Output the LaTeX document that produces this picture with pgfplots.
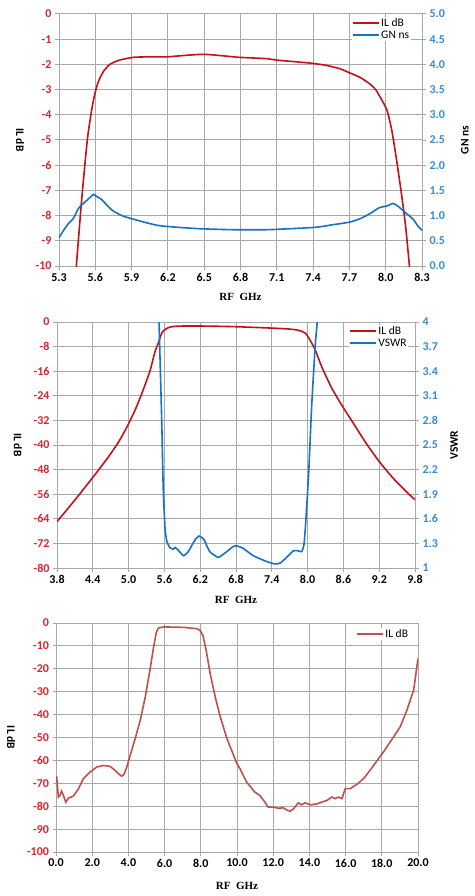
\documentclass[border=0pt]{standalone}
\usepackage{pgfplots}
\pgfplotsset{compat=1.18}
\usepackage{fontspec}
\setmainfont{Liberation Serif}
\newfontfamily\calfont{Carlito}
\definecolor{ilred}{RGB}{196,16,24}
\definecolor{gnblue}{RGB}{20,115,195}
\definecolor{tickred}{RGB}{222,34,44}
\definecolor{tickblue}{RGB}{52,140,215}
\definecolor{gridgray}{RGB}{168,168,168}
\definecolor{ilredc}{RGB}{192,80,77}
\pgfplotsset{legend image code/.code={\draw[#1] (0pt,0pt) -- (26pt,0pt);}}
\pgfplotsset{
 base/.style={scale only axis, clip=true,
   grid=major, grid style={gridgray, line width=1pt},
   axis line style={gridgray, line width=1pt},
   tick style={gridgray, line width=1pt},
   major tick length=4pt,
   tick label style={font=\calfont\bfseries\fontsize{12}{13}\selectfont},
   /pgf/number format/assume math mode=true,
   xlabel style={font=\bfseries\fontsize{11}{13}\selectfont},
   legend style={draw=none, fill=white, inner sep=0pt, nodes={inner sep=1.5pt},
     font=\calfont\fontsize{11.5}{13}\selectfont, cells={anchor=west}},
 },
 ylab/.style 2 args={every axis y label/.style={at={(axis description cs:#1,0.5)},
   rotate=#2, anchor=center, font=\calfont\bfseries\fontsize{11.5}{13}\selectfont}},
}
\begin{document}
\begin{tikzpicture}
\path[use as bounding box] (0pt,0pt) rectangle (474pt,-896pt);
% ---------- Chart 1 ----------
\begin{axis}[base, at={(59pt,-266pt)}, anchor=south west, width=363pt, height=252pt,
 xmin=5.3, xmax=8.3, ymin=-10, ymax=0, tick align=outside,
 xtick={5.3,5.6,5.9,6.2,6.5,6.8,7.1,7.4,7.7,8.0,8.3},
 xticklabels={5.3,5.6,5.9,6.2,6.5,6.8,7.1,7.4,7.7,8.0,8.3},
 ytick={-10,-9,-8,-7,-6,-5,-4,-3,-2,-1,0},
 yticklabel style={color=tickred},
 ytick pos=left, xtick pos=lower,
 xlabel={RF\ \ GHz}, xlabel style={at={(axis description cs:0.5,-0.123)}, anchor=center},
 ylabel={IL dB}, ylab={-0.107}{-90}]
\addplot[ilred, line width=1.6pt, smooth, tension=0.4] coordinates {
(5.44,-10.2)(5.487,-7.39)(5.534,-5.0)(5.57,-3.81)(5.597,-3.15)(5.625,-2.69)(5.666,-2.29)
(5.72,-2.0)(5.80,-1.83)(5.914,-1.72)(6.05,-1.70)(6.19,-1.70)(6.35,-1.64)(6.50,-1.60)
(6.68,-1.67)(6.79,-1.72)(7.01,-1.77)(7.10,-1.83)(7.29,-1.91)(7.40,-1.96)(7.51,-2.04)
(7.62,-2.17)(7.70,-2.33)(7.79,-2.52)(7.87,-2.78)(7.92,-3.02)(7.96,-3.35)(8.01,-3.81)
(8.05,-4.61)(8.09,-5.80)(8.13,-7.13)(8.165,-8.45)(8.20,-10.2)};
\end{axis}
\begin{axis}[base, at={(59pt,-266pt)}, anchor=south west, width=363pt, height=252pt,
 xmin=5.3, xmax=8.3, ymin=0, ymax=5, grid=none,
 axis y line*=right, axis x line=none, tick align=outside,
 ytick={0,0.5,1,1.5,2,2.5,3,3.5,4,4.5,5},
 yticklabels={0.0,0.5,1.0,1.5,2.0,2.5,3.0,3.5,4.0,4.5,5.0},
 yticklabel style={color=tickblue},
 ylabel={GN ns}, ylab={1.118}{90},
 legend style={at={(axis description cs:0.807,0.99)}, anchor=north west}]
\addlegendimage{ilred, line width=1.6pt}\addlegendentry{IL dB}
\addplot[gnblue, line width=1.6pt, smooth, tension=0.4] coordinates {
(5.3,0.56)(5.336,0.70)(5.377,0.84)(5.418,0.94)(5.46,1.14)(5.515,1.27)(5.556,1.36)
(5.584,1.42)(5.61,1.38)(5.652,1.32)(5.694,1.21)(5.749,1.09)(5.83,0.99)(5.914,0.93)
(6.02,0.86)(6.13,0.80)(6.27,0.77)(6.46,0.74)(6.74,0.72)(7.01,0.72)(7.21,0.74)
(7.43,0.77)(7.565,0.82)(7.70,0.87)(7.79,0.94)(7.87,1.04)(7.95,1.16)(8.01,1.19)
(8.06,1.24)(8.10,1.19)(8.157,1.07)(8.226,0.93)(8.267,0.79)(8.30,0.71)};
\addlegendentry{GN ns}
\end{axis}
% ---------- Chart 2 ----------
\begin{axis}[base, at={(57pt,-568pt)}, anchor=south west, width=358pt, height=246pt,
 xmin=3.8, xmax=9.8, ymin=-80, ymax=0, tick align=outside,
 xtick={3.8,4.4,5.0,5.6,6.2,6.8,7.4,8.0,8.6,9.2,9.8},
 xticklabels={3.8,4.4,5.0,5.6,6.2,6.8,7.4,8.0,8.6,9.2,9.8},
 ytick={-80,-72,-64,-56,-48,-40,-32,-24,-16,-8,0},
 yticklabel style={color=tickred},
 ytick pos=left, xtick pos=lower,
 xlabel={RF\ \ GHz}, xlabel style={at={(axis description cs:0.5,-0.130)}, anchor=center},
 ylabel={IL dB}, ylab={-0.109}{-90}]
\addplot[ilred, line width=1.6pt, smooth, tension=0.4] coordinates {
(3.8,-64.9)(3.985,-60.6)(4.153,-56.6)(4.32,-52.5)(4.49,-48.3)(4.66,-43.9)(4.83,-39.1)
(4.97,-34.2)(5.11,-28.6)(5.23,-22.8)(5.36,-15.8)(5.44,-9.8)(5.50,-6.8)(5.54,-4.3)
(5.58,-2.9)(5.67,-1.8)(5.78,-1.4)(5.95,-1.3)(6.19,-1.3)(6.75,-1.5)(7.42,-2.0)
(7.70,-2.3)(7.85,-2.7)(7.96,-3.6)(8.045,-6.0)(8.13,-9.2)(8.24,-14.7)(8.41,-21.7)
(8.60,-27.9)(8.75,-32.4)(8.97,-39.1)(9.19,-45.1)(9.42,-50.5)(9.64,-54.9)(9.80,-57.8)};
\end{axis}
\begin{axis}[base, at={(57pt,-568pt)}, anchor=south west, width=358pt, height=246pt,
 xmin=3.8, xmax=9.8, ymin=1, ymax=4, grid=none,
 axis y line*=right, axis x line=none, tick align=outside,
 ytick={1,1.3,1.6,1.9,2.2,2.5,2.8,3.1,3.4,3.7,4},
 yticklabels={1,1.3,1.6,1.9,2.2,2.5,2.8,3.1,3.4,3.7,4},
 yticklabel style={color=tickblue},
 ylabel={VSWR}, ylab={1.109}{90},
 legend style={at={(axis description cs:0.816,0.99)}, anchor=north west}]
\addlegendimage{ilred, line width=1.6pt}\addlegendentry{IL dB}
\addplot[gnblue, line width=1.6pt, smooth, tension=0.3] coordinates {
(5.49,4.6)(5.51,4.0)(5.555,2.8)(5.58,1.98)(5.61,1.49)(5.64,1.33)(5.69,1.25)(5.75,1.23)
(5.78,1.25)(5.83,1.22)(5.92,1.15)(6.00,1.20)(6.11,1.34)(6.18,1.39)(6.26,1.35)(6.36,1.20)
(6.50,1.13)(6.61,1.18)(6.75,1.26)(6.81,1.27)(6.92,1.24)(7.09,1.15)(7.31,1.08)
(7.45,1.05)(7.54,1.06)(7.65,1.13)(7.76,1.21)(7.84,1.21)(7.90,1.20)(7.94,1.29)
(7.97,1.57)(8.02,2.19)(8.07,3.0)(8.13,3.74)(8.16,4.0)(8.18,4.6)};
\addlegendentry{VSWR}
\end{axis}
% ---------- Chart 3 ----------
\begin{axis}[base, at={(56pt,-852pt)}, anchor=south west, width=362pt, height=229pt,
 xmin=0, xmax=20, ymin=-100, ymax=0, tick align=center, major tick length=7pt,
 xtick={0,2,4,6,8,10,12,14,16,18,20},
 xticklabels={0.0,2.0,4.0,6.0,8.0,10.0,12.0,14.0,16.0,18.0,20.0},
 ytick={-100,-90,-80,-70,-60,-50,-40,-30,-20,-10,0},
 yticklabel style={color=tickred},
 ytick pos=left, xtick pos=lower,
 xlabel={RF\ \ GHz}, xlabel style={at={(axis description cs:0.5,-0.148)}, anchor=center},
 ylabel={IL dB}, ylab={-0.124}{-90},
 legend style={at={(axis description cs:0.829,0.98)}, anchor=north west}]
\addplot[ilredc, line width=1.6pt] coordinates {
(0.0,-67.0)(0.04,-67.3)(0.13,-76.0)(0.22,-75.3)(0.31,-73.4)(0.41,-75.3)(0.54,-78.2)
(0.68,-76.5)(0.96,-75.6)(1.24,-72.4)(1.51,-68.0)(1.88,-65.1)(2.25,-62.9)(2.62,-62.2)
(2.99,-62.6)(3.27,-64.4)(3.45,-65.8)(3.63,-66.9)(3.76,-66.1)(3.91,-62.9)(4.10,-57.8)
(4.37,-50.6)(4.65,-42.6)(4.93,-32.4)(5.20,-20.1)(5.39,-10.6)(5.54,-4.1)(5.66,-2.2)
(5.94,-1.7)(7.05,-1.9)(7.79,-2.5)(7.97,-3.3)(8.12,-5.5)(8.30,-12.1)(8.52,-22.2)
(8.80,-32.4)(9.08,-41.1)(9.45,-50.6)(10.0,-61.5)(10.15,-63.4)(10.52,-69.3)
(10.98,-73.8)(11.26,-75.3)(11.54,-78.2)(11.72,-80.4)(12.0,-80.4)(12.28,-80.9)
(12.56,-80.7)(12.74,-81.6)(12.93,-82.2)(13.11,-81.2)(13.39,-78.5)(13.57,-79.4)
(13.76,-78.5)(14.04,-79.4)(14.41,-79.0)(14.69,-78.2)(14.96,-77.5)(15.24,-76.0)
(15.43,-76.7)(15.61,-76.0)(15.80,-76.7)(15.98,-72.3)(16.26,-72.3)(16.63,-70.4)
(17.0,-67.9)(17.37,-64.1)(17.74,-60.1)(18.1,-56.2)(18.66,-49.6)(19.02,-45.3)
(19.39,-38.0)(19.76,-29.3)(20.0,-15.5)};
\addlegendentry{IL dB}
\end{axis}
\end{tikzpicture}
\end{document}
